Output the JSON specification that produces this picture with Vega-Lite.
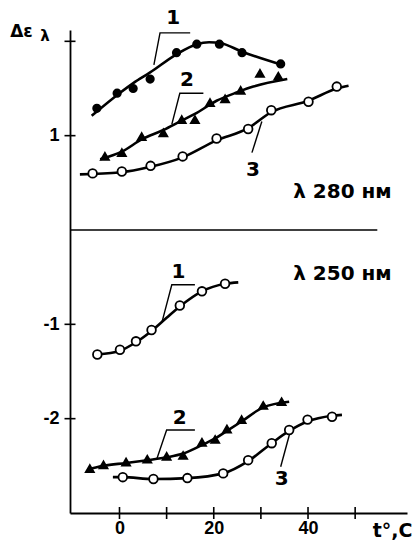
{
  "$schema": "https://vega.github.io/schema/vega-lite/v6.json",
  "width": 337,
  "height": 483,
  "autosize": {"type": "none"},
  "padding": {"left": 70, "top": 30, "right": 8, "bottom": 33},
  "background": "white",
  "config": {"view": {"stroke": null}, "font": "DejaVu Sans"},
  "datasets": {
    "curves": [
      {"s": "t1", "x": -5.9, "y": 1.21}, {"s": "t1", "x": 0, "y": 1.45}, {"s": "t1", "x": 3, "y": 1.56}, {"s": "t1", "x": 6.5, "y": 1.67}, {"s": "t1", "x": 12, "y": 1.86}, {"s": "t1", "x": 16.4, "y": 1.97}, {"s": "t1", "x": 19, "y": 1.99}, {"s": "t1", "x": 21.5, "y": 1.98}, {"s": "t1", "x": 26, "y": 1.89}, {"s": "t1", "x": 34.5, "y": 1.75},
      {"s": "t2", "x": -4.1, "y": 0.75}, {"s": "t2", "x": 0.5, "y": 0.83}, {"s": "t2", "x": 4.7, "y": 0.96}, {"s": "t2", "x": 9.3, "y": 1.06}, {"s": "t2", "x": 13.2, "y": 1.16}, {"s": "t2", "x": 16, "y": 1.23}, {"s": "t2", "x": 20.6, "y": 1.37}, {"s": "t2", "x": 25, "y": 1.46}, {"s": "t2", "x": 28.4, "y": 1.52}, {"s": "t2", "x": 35.6, "y": 1.6},
      {"s": "t3", "x": -8.4, "y": 0.59}, {"s": "t3", "x": 0, "y": 0.61}, {"s": "t3", "x": 6.6, "y": 0.67}, {"s": "t3", "x": 13.4, "y": 0.77}, {"s": "t3", "x": 20.6, "y": 0.95}, {"s": "t3", "x": 27.3, "y": 1.08}, {"s": "t3", "x": 32.2, "y": 1.25}, {"s": "t3", "x": 40.1, "y": 1.37}, {"s": "t3", "x": 46.1, "y": 1.5}, {"s": "t3", "x": 48.6, "y": 1.53},
      {"s": "b1", "x": -4.7, "y": -1.32}, {"s": "b1", "x": 0.1, "y": -1.28}, {"s": "b1", "x": 3.5, "y": -1.19}, {"s": "b1", "x": 6.8, "y": -1.07}, {"s": "b1", "x": 10, "y": -0.93}, {"s": "b1", "x": 12.8, "y": -0.81}, {"s": "b1", "x": 17.5, "y": -0.65}, {"s": "b1", "x": 22.4, "y": -0.57}, {"s": "b1", "x": 25.2, "y": -0.555},
      {"s": "b2", "x": -6.8, "y": -2.54}, {"s": "b2", "x": -3.4, "y": -2.5}, {"s": "b2", "x": 1.4, "y": -2.47}, {"s": "b2", "x": 5.9, "y": -2.44}, {"s": "b2", "x": 10, "y": -2.41}, {"s": "b2", "x": 13.5, "y": -2.37}, {"s": "b2", "x": 17.5, "y": -2.28}, {"s": "b2", "x": 20.3, "y": -2.21}, {"s": "b2", "x": 22.8, "y": -2.13}, {"s": "b2", "x": 25.9, "y": -2.03}, {"s": "b2", "x": 30.5, "y": -1.88}, {"s": "b2", "x": 36, "y": -1.82},
      {"s": "b3", "x": -1.4, "y": -2.62}, {"s": "b3", "x": 0.7, "y": -2.62}, {"s": "b3", "x": 7.2, "y": -2.64}, {"s": "b3", "x": 14.4, "y": -2.63}, {"s": "b3", "x": 22, "y": -2.58}, {"s": "b3", "x": 27.3, "y": -2.45}, {"s": "b3", "x": 32.3, "y": -2.26}, {"s": "b3", "x": 36, "y": -2.13}, {"s": "b3", "x": 39.9, "y": -2.03}, {"s": "b3", "x": 45.1, "y": -1.97}, {"s": "b3", "x": 47.2, "y": -1.96}
    ],
    "markers": [
      {"m": "filled", "x": -4.8, "y": 1.29}, {"m": "filled", "x": -0.5, "y": 1.45}, {"m": "filled", "x": 2.9, "y": 1.5}, {"m": "filled", "x": 6.5, "y": 1.6}, {"m": "filled", "x": 12.1, "y": 1.88}, {"m": "filled", "x": 16.4, "y": 1.97}, {"m": "filled", "x": 21.2, "y": 1.97}, {"m": "filled", "x": 26, "y": 1.88}, {"m": "filled", "x": 34.2, "y": 1.76},
      {"m": "triangle", "x": -3.1, "y": 0.78}, {"m": "triangle", "x": 0.5, "y": 0.82}, {"m": "triangle", "x": 4.7, "y": 0.99}, {"m": "triangle", "x": 9.3, "y": 1.03}, {"m": "triangle", "x": 13.2, "y": 1.17}, {"m": "triangle", "x": 16, "y": 1.17}, {"m": "triangle", "x": 19.2, "y": 1.35}, {"m": "triangle", "x": 22.4, "y": 1.39}, {"m": "triangle", "x": 25.7, "y": 1.48}, {"m": "triangle", "x": 29.8, "y": 1.66}, {"m": "triangle", "x": 33.7, "y": 1.63},
      {"m": "open", "x": -5.7, "y": 0.6}, {"m": "open", "x": 0.5, "y": 0.62}, {"m": "open", "x": 6.6, "y": 0.68}, {"m": "open", "x": 13.4, "y": 0.78}, {"m": "open", "x": 20.6, "y": 0.97}, {"m": "open", "x": 27.3, "y": 1.07}, {"m": "open", "x": 32.2, "y": 1.27}, {"m": "open", "x": 40.1, "y": 1.36}, {"m": "open", "x": 46.1, "y": 1.52},
      {"m": "open", "x": -4.7, "y": -1.32}, {"m": "open", "x": 0.1, "y": -1.27}, {"m": "open", "x": 3.5, "y": -1.18}, {"m": "open", "x": 6.8, "y": -1.06}, {"m": "open", "x": 12.8, "y": -0.8}, {"m": "open", "x": 17.5, "y": -0.65}, {"m": "open", "x": 22.4, "y": -0.57},
      {"m": "triangle", "x": -6.3, "y": -2.53}, {"m": "triangle", "x": -3.4, "y": -2.49}, {"m": "triangle", "x": 1.4, "y": -2.46}, {"m": "triangle", "x": 5.9, "y": -2.43}, {"m": "triangle", "x": 10, "y": -2.4}, {"m": "triangle", "x": 13.5, "y": -2.39}, {"m": "triangle", "x": 17.5, "y": -2.25}, {"m": "triangle", "x": 20.3, "y": -2.22}, {"m": "triangle", "x": 22.8, "y": -2.11}, {"m": "triangle", "x": 25.9, "y": -2.01}, {"m": "triangle", "x": 30.5, "y": -1.86}, {"m": "triangle", "x": 34.4, "y": -1.82},
      {"m": "open", "x": 0.7, "y": -2.62}, {"m": "open", "x": 7.2, "y": -2.64}, {"m": "open", "x": 14.4, "y": -2.63}, {"m": "open", "x": 22, "y": -2.58}, {"m": "open", "x": 27.3, "y": -2.44}, {"m": "open", "x": 32.3, "y": -2.26}, {"m": "open", "x": 36, "y": -2.12}, {"m": "open", "x": 39.9, "y": -2.01}, {"m": "open", "x": 45.1, "y": -1.98}
    ],
    "leaders": [
      {"id": "t1", "o": 1, "x": 15, "y": 2.09}, {"id": "t1", "o": 2, "x": 8.6, "y": 2.09}, {"id": "t1", "o": 3, "x": 7.3, "y": 1.75},
      {"id": "t2", "o": 1, "x": 17.8, "y": 1.45}, {"id": "t2", "o": 2, "x": 12.8, "y": 1.45}, {"id": "t2", "o": 3, "x": 11.1, "y": 1.12},
      {"id": "t3", "o": 1, "x": 30.2, "y": 1.15}, {"id": "t3", "o": 2, "x": 28.1, "y": 0.82},
      {"id": "b1", "o": 1, "x": 16, "y": -0.58}, {"id": "b1", "o": 2, "x": 11.1, "y": -0.58}, {"id": "b1", "o": 3, "x": 9, "y": -0.98},
      {"id": "b2", "o": 1, "x": 16, "y": -2.12}, {"id": "b2", "o": 2, "x": 10, "y": -2.12}, {"id": "b2", "o": 3, "x": 7.9, "y": -2.43},
      {"id": "b3", "o": 1, "x": 36.1, "y": -2.16}, {"id": "b3", "o": 2, "x": 34.2, "y": -2.51}
    ],
    "labels": [
      {"k": "num", "x": 11.4, "y": 2.25, "t": "1"},
      {"k": "num", "x": 14.3, "y": 1.59, "t": "2"},
      {"k": "num", "x": 28.3, "y": 0.64, "t": "3"},
      {"k": "num", "x": 12.5, "y": -0.44, "t": "1"},
      {"k": "num", "x": 12.8, "y": -1.99, "t": "2"},
      {"k": "num", "x": 34.4, "y": -2.64, "t": "3"},
      {"k": "wave", "x": 47.3, "y": 0.4, "t": "λ 280 нм"},
      {"k": "wave", "x": 47.3, "y": -0.47, "t": "λ 250 нм"},
      {"k": "sub", "x": -15.8, "y": 2.06, "t": "λ"}
    ],
    "ticks": [
      {"a": "x", "x": 0, "y": -3}, {"a": "x", "x": 10, "y": -3}, {"a": "x", "x": 20, "y": -3}, {"a": "x", "x": 30, "y": -3}, {"a": "x", "x": 40, "y": -3}, {"a": "x", "x": 50, "y": -3},
      {"a": "y", "x": -10.5, "y": 2}, {"a": "y", "x": -10.5, "y": 1}, {"a": "y", "x": -10.5, "y": -1}, {"a": "y", "x": -10.5, "y": -2}
    ],
    "separator": [{"x": -10.5, "x2": 54.7, "y": 0}]
  },
  "encoding": {
    "x": {
      "field": "x", "type": "quantitative",
      "scale": {"domain": [-10.5, 61], "nice": false, "zero": false},
      "axis": {
        "values": [0, 20, 40], "ticks": false, "grid": false,
        "domainColor": "black", "domainWidth": 1.8,
        "labelFont": "Liberation Sans", "labelFontWeight": "bold", "labelFontSize": 18, "labelColor": "black",
        "labelPadding": 6, "labelFlush": false,
        "title": "t°,C", "titleFont": "DejaVu Sans", "titleFontWeight": "bold", "titleFontSize": 19, "titleColor": "black",
        "titleAlign": "right", "titleAnchor": null, "titleX": 342, "titleY": 17, "titleBaseline": "middle"
      }
    },
    "y": {
      "field": "y", "type": "quantitative",
      "scale": {"domain": [-3, 2.12], "nice": false, "zero": false},
      "axis": {
        "values": [1, -1, -2], "ticks": false, "grid": false,
        "domainColor": "black", "domainWidth": 1.8,
        "labelFont": "Liberation Sans", "labelFontWeight": "bold", "labelFontSize": 18, "labelColor": "black",
        "labelPadding": 11, "labelExpr": "datum.value < 0 ? '-' + abs(datum.value) : datum.label",
        "title": "Δε", "titleFont": "DejaVu Sans", "titleFontWeight": "bold", "titleFontSize": 17, "titleColor": "black",
        "titleAngle": 0, "titleX": -49, "titleY": 1, "titleAlign": "center", "titleBaseline": "middle"
      }
    }
  },
  "layer": [
    {
      "data": {"name": "separator"},
      "mark": {"type": "rule", "color": "black", "strokeWidth": 1.5},
      "encoding": {"x2": {"field": "x2"}}
    },
    {
      "data": {"name": "ticks"},
      "transform": [{"filter": "datum.a === 'x'"}],
      "mark": {"type": "tick", "orient": "vertical", "size": 12, "thickness": 1.6, "color": "black", "opacity": 1}
    },
    {
      "data": {"name": "ticks"},
      "transform": [{"filter": "datum.a === 'y'"}],
      "mark": {"type": "tick", "orient": "horizontal", "size": 11, "thickness": 1.6, "color": "black", "opacity": 1}
    },
    {
      "data": {"name": "curves"},
      "mark": {"type": "line", "interpolate": "monotone", "color": "black", "strokeWidth": 2.6},
      "encoding": {"detail": {"field": "s"}}
    },
    {
      "data": {"name": "leaders"},
      "mark": {"type": "line", "color": "black", "strokeWidth": 1.4},
      "encoding": {"detail": {"field": "id"}, "order": {"field": "o"}}
    },
    {
      "data": {"name": "markers"},
      "mark": {"type": "point", "filled": false, "stroke": "black", "strokeWidth": 1.8, "opacity": 1},
      "encoding": {
        "shape": {"field": "m", "scale": {"domain": ["filled", "triangle", "open"], "range": ["circle", "triangle-up", "circle"]}, "legend": null},
        "fill": {"field": "m", "scale": {"domain": ["filled", "triangle", "open"], "range": ["black", "black", "white"]}, "legend": null},
        "size": {"field": "m", "scale": {"domain": ["filled", "triangle", "open"], "range": [55, 75, 42]}, "legend": null}
      }
    },
    {
      "data": {"name": "labels"},
      "transform": [{"filter": "datum.k === 'num'"}],
      "mark": {"type": "text", "font": "DejaVu Sans", "fontWeight": "bold", "fontSize": 20, "color": "black", "align": "center", "baseline": "middle"},
      "encoding": {"text": {"field": "t"}}
    },
    {
      "data": {"name": "labels"},
      "transform": [{"filter": "datum.k === 'wave'"}],
      "mark": {"type": "text", "font": "DejaVu Sans", "fontWeight": "bold", "fontSize": 20, "color": "black", "align": "center", "baseline": "middle"},
      "encoding": {"text": {"field": "t"}}
    },
    {
      "data": {"name": "labels"},
      "transform": [{"filter": "datum.k === 'sub'"}],
      "mark": {"type": "text", "font": "DejaVu Sans", "fontWeight": "bold", "fontSize": 15, "color": "black", "align": "center", "baseline": "middle"},
      "encoding": {"text": {"field": "t"}}
    }
  ]
}
